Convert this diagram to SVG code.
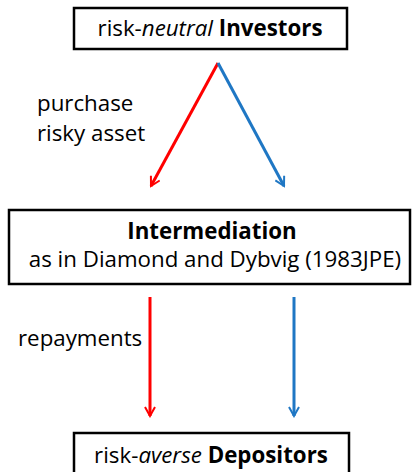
<svg xmlns="http://www.w3.org/2000/svg" width="412" height="472" viewBox="0 0 412 472">
<style>
.box{fill:#fff;stroke:#000;stroke-width:2.5}
text{font-family:"Open Sans","Liberation Sans",sans-serif;font-size:22.3px;fill:#000}
.c{text-anchor:middle}
.b{font-weight:bold}
.i{font-style:italic}
.red{stroke:#ff0000;stroke-width:3;fill:none}
.blue{stroke:#1f77c4;stroke-width:3;fill:none}
</style>
<defs>
<marker id="ar" viewBox="0 0 12 12" refX="10" refY="6" markerWidth="4" markerHeight="4" orient="auto" markerUnits="strokeWidth">
<path d="M1,1 L10,6 L1,11" fill="none" stroke="#ff0000" stroke-width="2"/>
</marker>
<marker id="ab" viewBox="0 0 12 12" refX="10" refY="6" markerWidth="4" markerHeight="4" orient="auto" markerUnits="strokeWidth">
<path d="M1,1 L10,6 L1,11" fill="none" stroke="#1f77c4" stroke-width="2"/>
</marker>
</defs>
<g id="investors">
<rect class="box" x="74" y="8" width="273" height="41"/>
<text class="c" x="210" y="36">risk-<tspan class="i">neutral</tspan> <tspan class="b">Investors</tspan></text>
</g>
<g id="intermediation">
<rect class="box" x="9" y="210" width="401" height="74"/>
<text class="c b" x="212" y="239">Intermediation</text>
<text class="c" x="215" y="267">as in Diamond and Dybvig (1983JPE)</text>
</g>
<g id="depositors">
<rect class="box" x="74" y="433" width="275" height="45"/>
<text class="c" x="211" y="463">risk-<tspan class="i">averse</tspan> <tspan class="b">Depositors</tspan></text>
</g>
<g id="connectors">
<line class="red" x1="218" y1="63" x2="151" y2="186" marker-end="url(#ar)"/>
<line class="blue" x1="218" y1="63" x2="284" y2="186" marker-end="url(#ab)"/>
<line class="red" x1="150" y1="297" x2="150" y2="416" marker-end="url(#ar)"/>
<line class="blue" x1="294" y1="297" x2="294" y2="416" marker-end="url(#ab)"/>
</g>
<g id="labels">
<text x="37" y="111">purchase</text>
<text x="37" y="141">risky asset</text>
<text x="18" y="346">repayments</text>
</g>
</svg>
